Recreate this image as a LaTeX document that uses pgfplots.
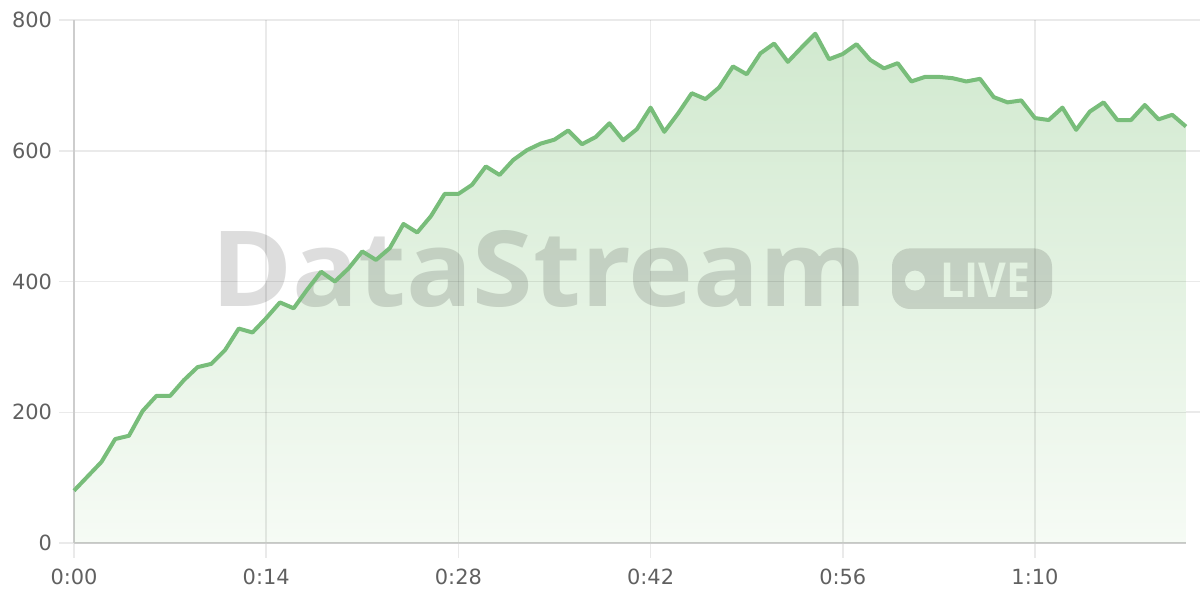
\documentclass[border=0pt]{standalone}
\usepackage{fontspec}
\setmainfont{DejaVu Sans}
\newfontfamily\wmfont{Open Sans}
\usepackage{pgfplots}
\usepackage{pgfplotstable}
\pgfplotsset{compat=1.18}

\definecolor{linegreen}{RGB}{120,189,122}
\definecolor{filltop}{RGB}{209,233,207}
\definecolor{fillbot}{RGB}{246,251,245}
\definecolor{gridc}{RGB}{234,234,234}
\definecolor{axisc}{RGB}{205,205,205}
\definecolor{tickc}{RGB}{96,96,96}
\definecolor{wmgray}{RGB}{221,221,221}

% seconds, value
\pgfplotstableread{
t v
0 80
1 102
2 124
3 159
4 164
5 202
6 225
7 225
8 249
9 269
10 274
11 295
12 328
13 322
14 344
15 368
16 359
17 388
18 415
19 400
20 420
21 446
22 433
23 451
24 488
25 475
26 500
27 534
28 534
29 548
30 576
31 563
32 586
33 601
34 611
35 617
36 631
37 610
38 621
39 642
40 616
41 633
42 666
43 629
44 657
45 688
46 679
47 697
48 729
49 717
50 749
51 764
52 736
53 758
54 779
55 740
56 748
57 763
58 739
59 726
60 734
61 706
62 713
63 713
64 711
65 706
66 710
67 682
68 674
69 677
70 650
71 647
72 666
73 632
74 660
75 674
76 647
77 647
78 670
79 648
80 655
81 637
}\datatable

\begin{document}
\begin{tikzpicture}
\path[use as bounding box] (0,0) rectangle (600bp,300bp);

% watermark, under everything
\node[anchor=base west, inner sep=0, text=wmgray] at (105.5bp,146.5bp)
  {\resizebox{328bp}{38bp}{\wmfont\bfseries DataStream}};
\fill[wmgray, rounded corners=9bp] (446bp,145.5bp) rectangle (526bp,175.8bp);
\fill[white] (457.5bp,159.7bp) circle (5bp);
\node[anchor=base west, inner sep=0, text=white] at (470bp,151.2bp)
  {\resizebox{45bp}{17.2bp}{\wmfont\bfseries LIVE}};

\begin{axis}[
    scale only axis,
    at={(37bp,28.5bp)}, anchor=south west,
    width=556bp, height=261.5bp,
    xmin=0, xmax=81, ymin=0, ymax=800,
    axis x line=bottom, axis y line=left,
    axis line style={-, axisc, line width=1bp},
    xtick={0,14,28,42,56,70},
    xticklabels={0:00,0:14,0:28,0:42,0:56,1:10},
    ytick={0,200,400,600,800},
    grid=major,
    grid style={gridc, line width=0.75bp, blend mode=multiply},
    tick align=outside,
    major tick length=7.5bp,
    tick style={gridc, line width=0.75bp},
    ticklabel style={font=\fontsize{10.5}{12}\selectfont, text=tickc},
    xticklabel style={yshift=-2bp},
    /pgf/number format/assume math mode=true,
    clip=false,
  ]
  \addplot[draw=none, top color=filltop, bottom color=fillbot, blend mode=multiply]
    table[x=t, y=v] {\datatable} \closedcycle;
  \addplot[linegreen, line width=2bp, line join=round] table[x=t, y=v] {\datatable};
\end{axis}

% grid lines run on past the last point
\foreach \y in {93.9,159.25,224.6,290} {
  \draw[gridc, line width=0.75bp, blend mode=multiply] (593bp,\y bp) -- (600bp,\y bp);
}
\end{tikzpicture}
\end{document}
